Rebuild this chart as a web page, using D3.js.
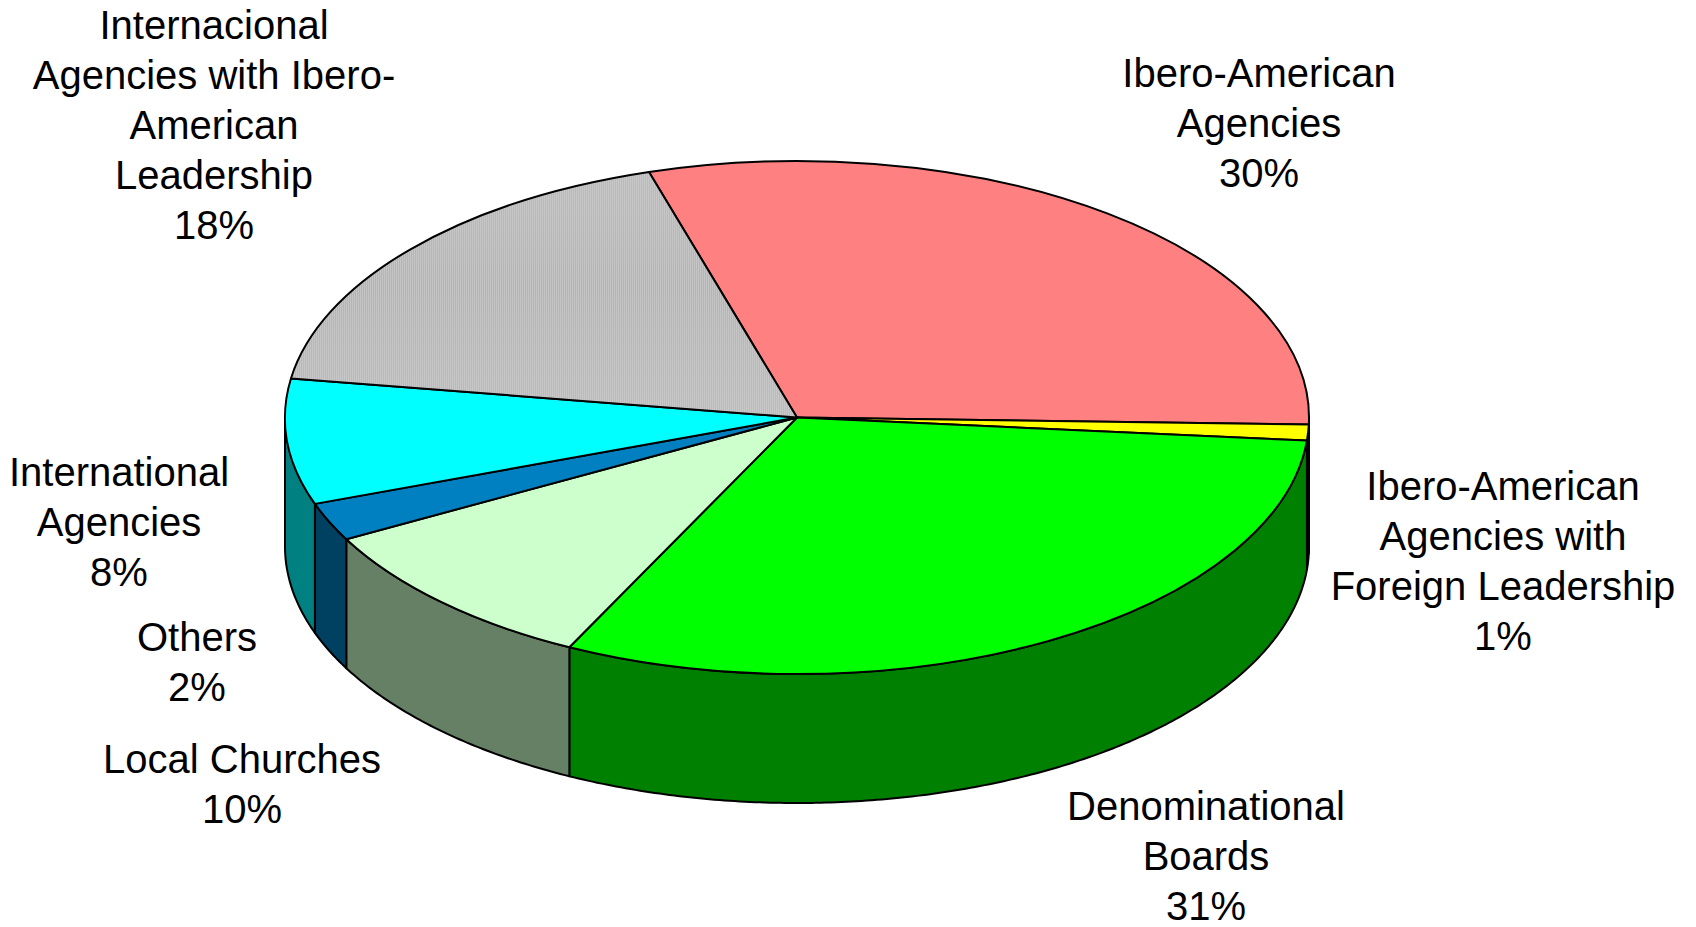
<!DOCTYPE html>
<meta charset="utf-8">
<style>
  body { margin: 0; background: #fff; }
  text { font-family: "Liberation Sans", Arial, sans-serif; font-size: 40px; fill: #000; }
</style>
<body></body>
<script src="https://cdn.jsdelivr.net/npm/d3@7"></script>
<script>
  const width = 1696
  const height = 927

  // slices, clockwise starting at the Ibero-American Agencies slice
  const categories = [
    "Ibero-American Agencies",
    "Ibero-American Agencies with Foreign Leadership",
    "Denominational Boards",
    "Local Churches",
    "Others",
    "International Agencies",
    "Internacional Agencies with Ibero-American Leadership"
  ]
  const values = [30.1, 1.0, 30.9, 9.8, 2.4, 7.9, 17.9]
  const labelLines = [
    ["Ibero-American", "Agencies"],
    ["Ibero-American", "Agencies with", "Foreign Leadership"],
    ["Denominational", "Boards"],
    ["Local Churches"],
    ["Others"],
    ["International", "Agencies"],
    ["Internacional", "Agencies with Ibero-", "American", "Leadership"]
  ]
  const topColors = ["#FF8080", "#FFFF00", "#00FF00", "#CCFFCC", "#0080C0", "#00FFFF", "url(#grayDots)"]
  const sideColors = ["#804040", "#808000", "#008000", "#668066", "#004060", "#008080", "#606060"]

  // label anchors (centre x, first baseline)
  const labelPos = [[1259, 87], [1503, 500], [1206, 820], [242, 773], [197, 651], [119, 486], [214, 39]]

  // ellipse geometry of the tilted pie
  const cx = 797, cy = 417.5, rx = 512, ry = 256.5, depth = 129
  const startAngle = -16.8 * Math.PI / 180

  const svg = d3.select("body").append("svg")
    .attr("width", width)
    .attr("height", height)

  const pat = svg.append("defs").append("pattern")
    .attr("id", "grayDots")
    .attr("width", 2).attr("height", 2)
    .attr("patternUnits", "userSpaceOnUse")
  pat.append("rect").attr("width", 2).attr("height", 2).attr("fill", "#C4C4C4")
  pat.append("rect").attr("width", 1).attr("height", 1).attr("fill", "#B4B4B4")
  pat.append("rect").attr("x", 1).attr("y", 1).attr("width", 1).attr("height", 1).attr("fill", "#CCCCCC")

  const pie = d3.pie().sort(null).startAngle(startAngle).endAngle(startAngle + 2 * Math.PI)
  const arcs = pie(values)

  const px = a => cx + rx * Math.sin(a)
  const py = a => cy - ry * Math.cos(a)

  // side walls: only the front half (angles between pi/2 and 3pi/2) is visible
  const sideLine = d3.line()
  function sidePath(d) {
    const norm = a => {
      let t = a
      while (t < -Math.PI / 2) t += 2 * Math.PI
      while (t > 3 * Math.PI / 2) t -= 2 * Math.PI
      return t
    }
    let a0 = d.startAngle, a1 = d.endAngle
    const shift = norm(a0) - a0
    a0 += shift; a1 += shift
    const lo = Math.max(a0, Math.PI / 2), hi = Math.min(a1, 3 * Math.PI / 2)
    if (hi <= lo) return null
    const n = Math.max(2, Math.ceil((hi - lo) / 0.01))
    const angs = d3.range(n + 1).map(i => lo + (hi - lo) * i / n)
    const top = angs.map(a => [px(a), py(a)])
    const bottom = angs.slice().reverse().map(a => [px(a), py(a) + depth])
    return sideLine(top.concat(bottom)) + "Z"
  }

  const sides = svg.append("g").attr("class", "sides")
  arcs.forEach((d, i) => {
    const p = sidePath(d)
    if (!p) return
    sides.append("path")
      .attr("d", p)
      .attr("fill", sideColors[i])
      .attr("stroke", "#000")
      .attr("stroke-width", 2)
      .attr("stroke-linejoin", "round")
  })

  // top faces
  const arc = d3.arc().innerRadius(0).outerRadius(rx)
  svg.append("g")
    .attr("transform", `translate(${cx},${cy}) scale(1,${ry / rx})`)
    .selectAll("path")
    .data(arcs)
    .join("path")
    .attr("d", arc)
    .attr("fill", (d, i) => topColors[i])
    .attr("stroke", "#000")
    .attr("stroke-width", 2)
    .attr("stroke-linejoin", "round")
    .attr("vector-effect", "non-scaling-stroke")

  // labels
  const total = d3.sum(values)
  const pct = d3.format(".0%")
  const labels = svg.append("g").attr("class", "labels")
  arcs.forEach((d, i) => {
    const lines = labelLines[i].concat([pct(values[i] / total)])
    const t = labels.append("text")
      .attr("text-anchor", "middle")
      .attr("x", labelPos[i][0])
      .attr("y", labelPos[i][1])
    t.append("title").text(categories[i])
    lines.forEach((l, j) => {
      t.append("tspan")
        .attr("x", labelPos[i][0])
        .attr("dy", j === 0 ? 0 : 50)
        .text(l)
    })
  })
</script>
